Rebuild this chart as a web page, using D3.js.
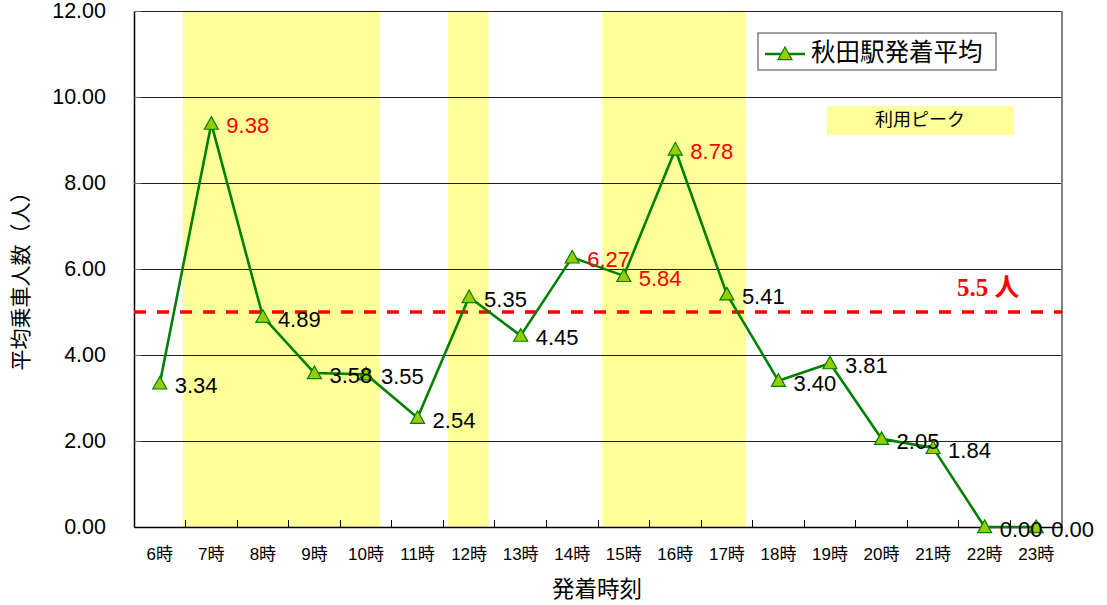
<!DOCTYPE html>
<html lang="ja">
<head>
<meta charset="utf-8">
<title>秋田駅発着平均 時間帯別平均乗車人数</title>
<script src="https://cdn.jsdelivr.net/npm/d3@7"></script>
<style>
  html, body { margin: 0; padding: 0; background: #fff; }
  svg { display: block; font-family: "Liberation Sans", "Noto Sans CJK JP", sans-serif; }
</style>
</head>
<body>
<svg id="chart" width="1107" height="605"></svg>
<script>
// 時間帯（発着時刻）
const hours = [6, 7, 8, 9, 10, 11, 12, 13, 14, 15, 16, 17, 18, 19, 20, 21, 22, 23];
const hourLabels = hours.map(h => h + "時");
// 秋田駅発着平均の乗車人数
const avgRiders = [3.34, 9.38, 4.89, 3.58, 3.55, 2.54, 5.35, 4.45, 6.27, 5.84, 8.78, 5.41, 3.40, 3.81, 2.05, 1.84, 0.00, 0.00];
// 赤字で示す値の時間帯
const redHours = [7, 14, 15, 16];
// 利用ピークの帯（時刻の範囲）
const peakRanges = [[6.45, 10.27], [11.59, 12.38], [14.58, 17.37]];
// Y軸目盛
const yTicks = [0, 2, 4, 6, 8, 10, 12];
// 基準線
const refValue = 5.0;
const refLabel = "5.5 人";
const seriesName = "秋田駅発着平均";
const peakName = "利用ピーク";

const svg = d3.select("#chart");
const L = 134, R = 1062, T = 11, B = 527;

const x = d3.scaleBand().domain(hours).range([L, R]).padding(0);
const xc = h => x(h) + x.bandwidth() / 2;
const xHour = d3.scaleLinear().domain([6, 23]).range([xc(6), xc(23)]);
const y = d3.scaleLinear().domain([0, 12]).range([B, T]);

// 利用ピーク帯
svg.append("g").selectAll("rect").data(peakRanges).join("rect")
  .attr("x", d => xHour(d[0]))
  .attr("width", d => xHour(d[1]) - xHour(d[0]))
  .attr("y", T).attr("height", B - T)
  .attr("fill", "#ffff99");

// 横グリッド線
svg.append("g").selectAll("line").data(yTicks.filter(v => v > 0)).join("line")
  .attr("x1", L).attr("x2", R)
  .attr("y1", d => y(d)).attr("y2", d => y(d))
  .attr("stroke", "#222").attr("stroke-width", 1).attr("shape-rendering", "crispEdges");

// 右枠
svg.append("line").attr("x1", R).attr("x2", R).attr("y1", T).attr("y2", B)
  .attr("stroke", "#808080").attr("stroke-width", 1.5).attr("shape-rendering", "crispEdges");

// Y軸
const yAxis = d3.axisLeft(y).tickValues(yTicks).tickFormat(d3.format(".2f")).tickSize(0).tickPadding(28);
const gy = svg.append("g").attr("transform", `translate(${L},0)`).call(yAxis);
gy.select(".domain").attr("stroke", "#000").attr("stroke-width", 1.5);
gy.selectAll("text").attr("font-size", 21.5).attr("fill", "#000")
  .attr("font-family", "'Liberation Sans', 'Noto Sans CJK JP', sans-serif");
// Y軸の内向き目盛
svg.append("g").selectAll("line").data(yTicks).join("line")
  .attr("x1", L).attr("x2", L + 7)
  .attr("y1", d => y(d)).attr("y2", d => y(d))
  .attr("stroke", "#666").attr("stroke-width", 1).attr("shape-rendering", "crispEdges");

// X軸
const gx = svg.append("g").attr("transform", `translate(0,${B})`)
  .call(d3.axisBottom(x).tickValues([]).tickSizeOuter(0));
gx.select(".domain").attr("stroke", "#000").attr("stroke-width", 1.5);
// 区切り目盛（内向き）
svg.append("g").selectAll("line").data(hours.slice(1)).join("line")
  .attr("x1", d => x(d)).attr("x2", d => x(d))
  .attr("y1", B).attr("y2", B - 7)
  .attr("stroke", "#000").attr("stroke-width", 1).attr("shape-rendering", "crispEdges");
// 時刻ラベル
svg.append("g").selectAll("text").data(hours).join("text")
  .attr("x", d => xc(d)).attr("y", 556)
  .attr("text-anchor", "middle").attr("dominant-baseline", "middle")
  .attr("font-size", 17).attr("fill", "#000")
  .text((d, i) => hourLabels[i]);

// 軸タイトル
svg.append("text").attr("x", 597).attr("y", 597)
  .attr("text-anchor", "middle")
  .attr("font-size", 22.5).attr("font-family", "'Noto Sans CJK JP', sans-serif")
  .text("発着時刻");
svg.append("text")
  .attr("transform", "translate(22,276) rotate(-90)")
  .attr("text-anchor", "middle").attr("dominant-baseline", "middle")
  .attr("font-size", 21).attr("font-family", "'Noto Sans CJK JP', sans-serif")
  .text("平均乗車人数（人）");

// 基準線
svg.append("line").attr("x1", L).attr("x2", R)
  .attr("y1", y(refValue)).attr("y2", y(refValue))
  .attr("stroke", "#ff0000").attr("stroke-width", 3.5).attr("stroke-dasharray", "12,11");
svg.append("text").attr("x", 957).attr("y", 290)
  .attr("dominant-baseline", "middle")
  .attr("font-size", 25).attr("font-weight", "bold").attr("fill", "#ff0000")
  .attr("font-family", "'Liberation Serif', 'Noto Sans CJK JP', serif")
  .text(refLabel);

// 折れ線
const pts = hours.map((h, i) => ({ h, v: avgRiders[i] }));
svg.append("path").datum(pts)
  .attr("fill", "none").attr("stroke", "#008000").attr("stroke-width", 2.6)
  .attr("stroke-linejoin", "round")
  .attr("d", d3.line().x(d => xc(d.h)).y(d => y(d.v)));

// 三角マーカー
const tri = "M0,-7L7,5.6L-7,5.6Z";
svg.append("g").selectAll("path").data(pts).join("path")
  .attr("transform", d => `translate(${xc(d.h)},${y(d.v)})`)
  .attr("d", tri)
  .attr("fill", "#99cc00").attr("stroke", "#008000").attr("stroke-width", 1.2);

// データラベル
svg.append("g").selectAll("text").data(pts).join("text")
  .attr("x", d => xc(d.h) + 15).attr("y", d => y(d.v) + 4)
  .attr("dominant-baseline", "middle")
  .attr("font-size", 22)
  .attr("fill", d => redHours.includes(d.h) ? "#ff0000" : "#000")
  .text(d => d.v.toFixed(2));

// 凡例
const lg = svg.append("g");
lg.append("rect").attr("x", 758).attr("y", 33).attr("width", 238).attr("height", 37)
  .attr("fill", "#fff").attr("stroke", "#444").attr("stroke-width", 1);
lg.append("line").attr("x1", 765).attr("x2", 805).attr("y1", 54).attr("y2", 54)
  .attr("stroke", "#008000").attr("stroke-width", 2.6);
lg.append("path").attr("transform", "translate(785,54)").attr("d", tri)
  .attr("fill", "#99cc00").attr("stroke", "#008000").attr("stroke-width", 1.2);
lg.append("text").attr("x", 811).attr("y", 54)
  .attr("dominant-baseline", "middle").attr("font-size", 24.5)
  .attr("font-family", "'Noto Sans CJK JP', sans-serif")
  .text(seriesName);

lg.append("rect").attr("x", 827).attr("y", 106).attr("width", 187).attr("height", 29)
  .attr("fill", "#ffff99");
lg.append("text").attr("x", 920).attr("y", 121)
  .attr("text-anchor", "middle").attr("dominant-baseline", "middle")
  .attr("font-size", 18).attr("font-family", "'Noto Sans CJK JP', sans-serif")
  .text(peakName);
</script>
</body>
</html>
